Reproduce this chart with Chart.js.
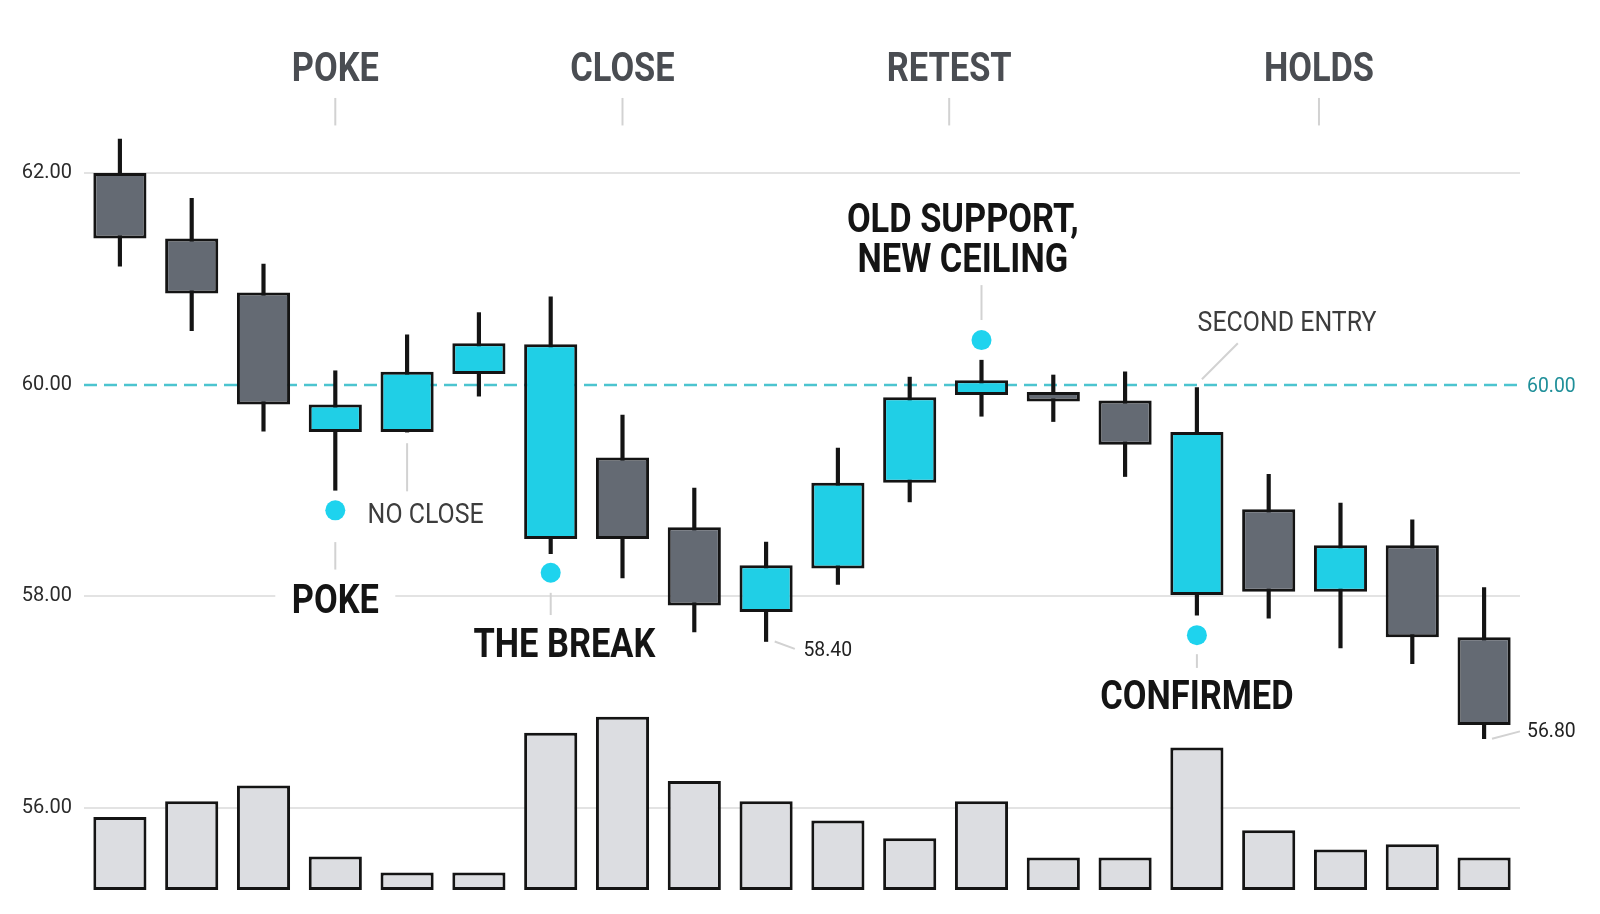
<!DOCTYPE html>
<html>
<head>
<meta charset="utf-8">
<script src="https://cdn.jsdelivr.net/npm/chart.js@4.4.1/dist/chart.umd.min.js"></script>
<style>
  html, body { margin: 0; padding: 0; background: #fff; }
  #wrap { width: 1600px; height: 914px; }
</style>
</head>
<body>
<div id="wrap"><canvas id="chart" width="1600" height="914"></canvas></div>
<script>
// Candles (price), one per bar
const bars = ['1', '2', '3', '4', '5', '6', '7', '8', '9', '10', '11', '12', '13', '14', '15', '16', '17', '18', '19', '20'];
const opens  = [62.00, 61.38, 60.87, 59.81, 59.55, 60.10, 60.38, 59.31, 58.65, 57.85, 58.26, 59.07, 59.90, 59.93, 59.85, 59.55, 58.82, 58.04, 58.48, 57.61];
const highs  = [62.32, 61.76, 61.14, 60.13, 60.47, 60.68, 60.83, 59.71, 59.02, 58.51, 59.40, 60.07, 60.23, 60.09, 60.12, 59.97, 59.15, 58.88, 58.72, 58.08];
const lows   = [61.12, 60.51, 59.56, 59.00, 59.55, 59.89, 58.40, 58.17, 57.66, 57.57, 58.11, 58.89, 59.70, 59.65, 59.13, 57.82, 57.79, 57.51, 57.36, 56.65];
const closes = [61.38, 60.86, 59.81, 59.55, 60.12, 60.39, 58.54, 58.54, 57.91, 58.29, 59.07, 59.88, 60.04, 59.84, 59.43, 58.01, 58.04, 58.48, 57.61, 56.78];
const highlight = [0, 0, 0, 1, 1, 1, 1, 0, 0, 1, 1, 1, 1, 0, 0, 1, 0, 1, 0, 0];
// volume, millions
const volume = [0.83, 1.01, 1.19, 0.38, 0.20, 0.20, 1.79, 1.97, 1.24, 1.01, 0.79, 0.59, 1.01, 0.37, 0.37, 1.62, 0.68, 0.46, 0.52, 0.37];
// signal dots
const dots = [null, null, null, 58.81, null, null, 58.22, null, null, null, null, null, 60.42, null, null, 57.63, null, null, null, null];
const yTicks = [56, 58, 60, 62];
const level = 60;
const phases = ['POKE', 'CLOSE', 'RETEST', 'HOLDS'];

const CYAN = '#20cfe6';
const DARK = '#646a73';
const INK = '#141414';
const CONDENSED = 0.86;

function txt(ctx, s, x, capMid, size, weight, color, align, squeeze) {
  ctx.save();
  ctx.font = weight + ' ' + size + 'px Roboto, "Noto Sans", sans-serif';
  ctx.fillStyle = color;
  ctx.textAlign = align;
  ctx.textBaseline = 'alphabetic';
  ctx.translate(x, capMid + size * 0.355);
  ctx.scale(squeeze, 1);
  ctx.fillText(s, 0, 0);
  ctx.restore();
}

function seg(ctx, x1, y1, x2, y2) {
  ctx.beginPath();
  ctx.moveTo(x1, y1);
  ctx.lineTo(x2, y2);
  ctx.stroke();
}

const levelLine = {
  id: 'levelLine',
  beforeDatasetsDraw(chart) {
    const { ctx, chartArea, scales } = chart;
    const y = Math.round(scales.y.getPixelForValue(level));
    ctx.save();
    ctx.strokeStyle = '#4cc4cf';
    ctx.lineWidth = 2.5;
    ctx.setLineDash([13, 7]);
    seg(ctx, chartArea.left, y, chartArea.right, y);
    ctx.restore();
  }
};

const notes = {
  id: 'notes',
  afterDatasetsDraw(chart) {
    const { ctx, chartArea, scales } = chart;
    const X = v => scales.x.getPixelForValue(v);
    const Y = v => scales.y.getPixelForValue(v);

    // phase headers with small ticks
    const phaseAt = [3, 7, 11.55, 16.7];
    ctx.save();
    ctx.strokeStyle = '#d2d2d2';
    ctx.lineWidth = 2;
    phases.forEach((p, i) => {
      txt(ctx, p, X(phaseAt[i]), Y(63.0), 40, 'bold', '#4a4d52', 'center', CONDENSED);
      seg(ctx, X(phaseAt[i]), Y(62.71), X(phaseAt[i]), Y(62.45));
    });

    // leader lines
    [[3, 58.51, 3, 58.25], [4, 59.445, 4, 58.99], [6, 58.03, 6, 57.82],
     [12, 60.94, 12, 60.61], [15, 57.45, 15, 57.32], [15.57, 60.39, 15.07, 60.05],
     [9.12, 57.57, 9.40, 57.50], [19.11, 56.65, 19.5, 56.72]].forEach(l => {
      seg(ctx, X(l[0]), Y(l[1]), X(l[2]), Y(l[3]));
    });
    ctx.restore();

    // POKE sits on the 58 grid line, knocked out
    ctx.fillStyle = '#fff';
    ctx.fillRect(X(3) - 60, Y(57.97) - 18, 120, 36);
    txt(ctx, 'POKE', X(3), Y(57.97), 40, 'bold', INK, 'center', CONDENSED);
    txt(ctx, 'NO CLOSE', X(3.45), Y(58.78), 28, 'normal', '#3d3d3d', 'left', 0.89);
    txt(ctx, 'THE BREAK', X(6.19), Y(57.56), 40, 'bold', INK, 'center', CONDENSED);
    txt(ctx, 'OLD SUPPORT,', X(11.74), Y(61.58), 40, 'bold', INK, 'center', CONDENSED);
    txt(ctx, 'NEW CEILING', X(11.74), Y(61.20), 40, 'bold', INK, 'center', CONDENSED);
    txt(ctx, 'SECOND ENTRY', X(15.01), Y(60.60), 28, 'normal', '#3d3d3d', 'left', 0.89);
    txt(ctx, 'CONFIRMED', X(15), Y(57.07), 40, 'bold', INK, 'center', CONDENSED);
    txt(ctx, '58.40', X(9.52), Y(57.50), 20, 'normal', '#222', 'left', 0.97);
    txt(ctx, '56.80', chartArea.right + 7, Y(56.73), 20, 'normal', '#222', 'left', 0.97);
    txt(ctx, level.toFixed(2), chartArea.right + 7, Y(level), 20, 'normal', '#1f8f99', 'left', 0.97);
  }
};

const chart = new Chart(document.getElementById('chart').getContext('2d'), {
  type: 'bar',
  data: {
    labels: bars,
    datasets: [
      {
        type: 'line',
        label: 'Signal',
        data: dots,
        showLine: false,
        pointRadius: 10,
        pointBackgroundColor: '#1ed3ee',
        pointBorderWidth: 0,
        yAxisID: 'y',
        order: 0
      },
      {
        label: 'Body',
        data: opens.map((o, i) => [o, closes[i]]),
        backgroundColor: highlight.map(h => h ? CYAN : DARK),
        borderColor: INK,
        borderWidth: 3,
        borderSkipped: false,
        grouped: false,
        barPercentage: 0.74,
        categoryPercentage: 1,
        yAxisID: 'y',
        order: 1
      },
      {
        label: 'Wick',
        data: lows.map((l, i) => [l, highs[i]]),
        backgroundColor: INK,
        borderWidth: 0,
        grouped: false,
        barThickness: 3.5,
        yAxisID: 'y',
        order: 2
      },
      {
        label: 'Volume',
        data: volume,
        backgroundColor: '#dcdde1',
        borderColor: INK,
        borderWidth: 3,
        borderSkipped: false,
        grouped: false,
        barPercentage: 0.74,
        categoryPercentage: 1,
        yAxisID: 'v',
        order: 3
      }
    ]
  },
  options: {
    responsive: false,
    animation: false,
    devicePixelRatio: 1,
    layout: { padding: { left: 22, right: 80, top: 99, bottom: 24 } },
    plugins: {
      legend: { display: false },
      tooltip: { enabled: false }
    },
    scales: {
      x: { display: false },
      y: {
        min: 55.22,
        max: 62.7,
        afterFit: s => { s.width = 62; },
        afterBuildTicks: s => { s.ticks = yTicks.map(v => ({ value: v })); },
        border: { display: false },
        grid: {
          drawTicks: false,
          lineWidth: 2,
          color: c => (c.tick && c.tick.value === level) ? 'rgba(0,0,0,0)' : '#e3e3e3'
        },
        ticks: {
          padding: 12,
          color: '#2b2b2b',
          font: { family: 'Roboto', size: 20 },
          callback: v => Number(v).toFixed(2)
        }
      },
      v: { display: false, min: 0, max: 9 }
    }
  },
  plugins: [levelLine, notes]
});
</script>
</body>
</html>
